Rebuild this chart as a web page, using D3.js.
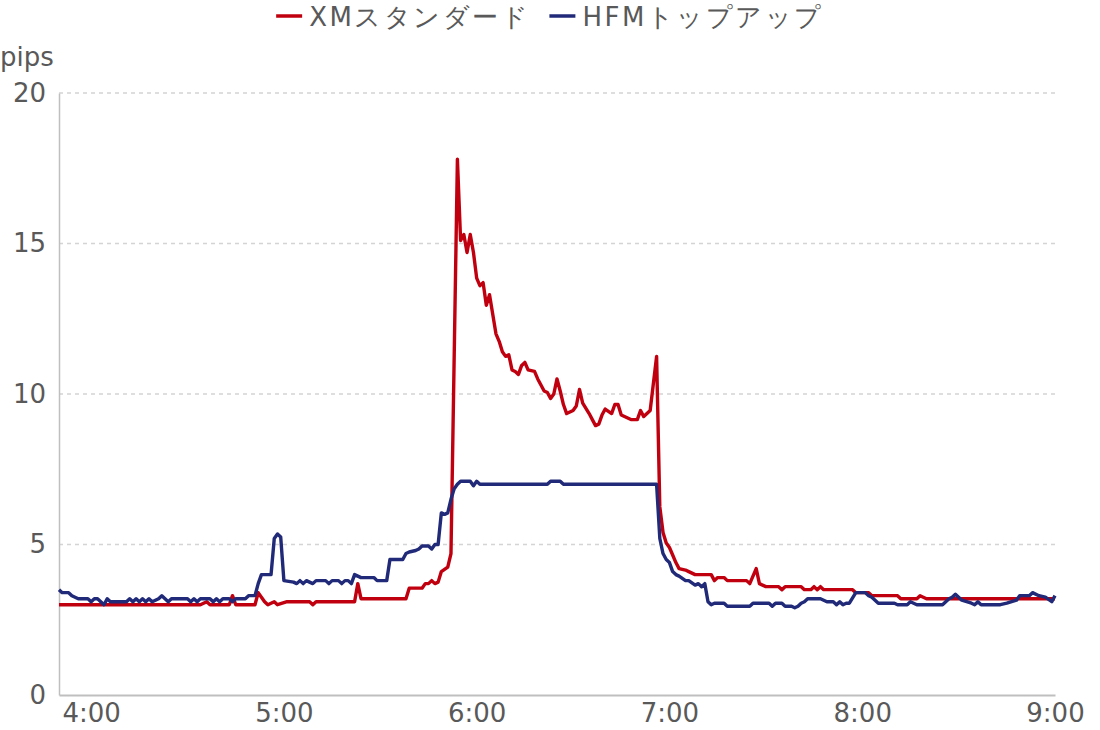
<!DOCTYPE html>
<html>
<head>
<meta charset="utf-8">
<script src="https://cdn.jsdelivr.net/npm/d3@7"></script>
<style>
  body { margin: 0; background: #fff; }
  text { font-family: "DejaVu Sans", Verdana, sans-serif; fill: #595959; }
</style>
</head>
<body>
<svg id="chart" width="1100" height="730"></svg>
<script>
// series names
const seriesNames = ["XMスタンダード", "HFMトップアップ"];

// XM standard, breakpoints (time, pips)
const xmTimes = [
  "3:50","4:34","4:36","4:37","4:43","4:44","4:45","4:51","4:52","4:54","4:55","4:57","4:58",
  "5:01","5:08","5:09","5:10","5:22","5:23","5:24","5:38","5:39","5:43","5:44","5:45","5:46",
  "5:47","5:48","5:49","5:51","5:52","5:54","5:55","5:56","5:57","5:58","5:59","6:00","6:01",
  "6:02","6:03","6:04","6:06","6:07","6:08","6:09","6:10","6:11","6:12","6:13","6:14","6:15",
  "6:16","6:18","6:19","6:21","6:22","6:23","6:24","6:25","6:26","6:27","6:28","6:30","6:31",
  "6:32","6:33","6:35","6:36","6:37","6:38","6:39","6:40","6:42","6:43","6:44","6:45","6:47",
  "6:48","6:50","6:51","6:52","6:54","6:56","6:57","6:58","6:59","7:00","7:01","7:02","7:03",
  "7:05","7:06","7:08","7:13","7:14","7:15","7:17","7:18","7:24","7:25","7:27","7:28","7:30",
  "7:34","7:35","7:36","7:41","7:42","7:44","7:45","7:46","7:47","7:48","7:57","7:58","8:02",
  "8:03","8:11","8:12","8:17","8:18","8:20","9:00"
];
const xmValues = [
  3.0,3.0,3.1,3.0,3.0,3.3,3.0,3.0,3.4,3.1,3.0,3.1,3.0,
  3.1,3.1,3.0,3.1,3.1,3.7,3.2,3.2,3.55,3.55,3.7,3.7,3.8,
  3.7,3.75,4.1,4.25,4.7,17.8,15.1,15.3,14.7,15.3,14.7,13.85,13.6,
  13.7,12.95,13.3,12.0,11.75,11.4,11.25,11.3,10.8,10.75,10.65,10.95,11.05,
  10.8,10.75,10.5,10.1,10.05,9.85,10.0,10.5,10.1,9.65,9.35,9.45,9.6,
  10.15,9.7,9.35,9.15,8.95,9.0,9.3,9.5,9.35,9.65,9.65,9.3,9.2,
  9.15,9.15,9.45,9.25,9.45,11.25,6.25,5.4,5.05,4.9,4.65,4.4,4.2,
  4.15,4.1,4.0,4.0,3.8,3.9,3.9,3.8,3.8,3.7,4.2,3.7,3.6,
  3.6,3.5,3.6,3.6,3.5,3.5,3.6,3.5,3.6,3.5,3.5,3.4,3.4,
  3.3,3.3,3.2,3.2,3.3,3.2,3.2
];

// HFM top-up, breakpoints (time, pips)
const hfmTimes = [
  "3:50","3:51","3:53","3:54","3:56","3:59","4:00","4:01","4:02","4:03","4:04","4:05","4:06",
  "4:11","4:12","4:13","4:14","4:15","4:16","4:17","4:18","4:19","4:21","4:22","4:23","4:24",
  "4:25","4:30","4:31","4:32","4:33","4:34","4:37","4:38","4:39","4:40","4:41","4:43","4:44",
  "4:45","4:48","4:49","4:51","4:52","4:53","4:56","4:57","4:58","4:59","5:00","5:03","5:04",
  "5:05","5:06","5:07","5:08","5:09","5:10","5:13","5:14","5:15","5:17","5:18","5:19","5:20",
  "5:21","5:22","5:24","5:28","5:29","5:32","5:33","5:37","5:38","5:39","5:41","5:42","5:43",
  "5:45","5:46","5:47","5:48","5:49","5:50","5:51","5:52","5:53","5:54","5:55","5:58","5:59",
  "6:00","6:01","6:22","6:23","6:26","6:27","6:56","6:57","6:58","6:59","7:00","7:01","7:02",
  "7:03","7:05","7:06","7:08","7:09","7:10","7:11","7:12","7:13","7:14","7:17","7:18","7:25",
  "7:26","7:31","7:32","7:33","7:35","7:36","7:38","7:39","7:40","7:41","7:42","7:43","7:47",
  "7:49","7:51","7:52","7:53","7:54","7:55","7:56","7:58","8:01","8:02","8:03","8:05","8:10",
  "8:11","8:14","8:15","8:17","8:25","8:27","8:28","8:29","8:31","8:34","8:35","8:36","8:37",
  "8:43","8:45","8:48","8:49","8:52","8:53","8:55","8:57","8:59","9:00"
];
const hfmValues = [
  3.5,3.4,3.4,3.3,3.2,3.2,3.1,3.2,3.2,3.1,3.0,3.2,3.1,
  3.1,3.2,3.1,3.2,3.1,3.2,3.1,3.2,3.1,3.2,3.3,3.2,3.1,
  3.2,3.2,3.1,3.2,3.1,3.2,3.2,3.1,3.2,3.1,3.2,3.2,3.1,
  3.2,3.2,3.3,3.3,3.7,4.0,4.0,5.2,5.35,5.25,3.8,3.75,3.7,
  3.8,3.7,3.8,3.75,3.7,3.8,3.8,3.7,3.8,3.8,3.7,3.8,3.8,
  3.7,4.0,3.9,3.9,3.8,3.8,4.5,4.5,4.7,4.75,4.8,4.85,4.95,
  4.95,4.85,5.0,5.0,6.05,6.0,6.05,6.5,6.85,7.0,7.1,7.1,6.95,
  7.1,7.0,7.0,7.1,7.1,7.0,7.0,5.2,4.7,4.5,4.4,4.1,4.0,
  3.95,3.8,3.8,3.65,3.7,3.6,3.7,3.1,3.0,3.05,3.05,2.95,2.95,
  3.05,3.05,2.95,3.05,3.05,2.95,2.95,2.9,2.95,3.05,3.1,3.2,3.2,
  3.1,3.1,3.0,3.1,3.0,3.05,3.05,3.4,3.4,3.3,3.25,3.05,3.05,
  3.0,3.0,3.1,3.0,3.0,3.2,3.25,3.35,3.15,3.05,3.0,3.1,3.0,
  3.0,3.05,3.15,3.3,3.3,3.4,3.3,3.25,3.1,3.3
];

const xTickLabels = ["4:00", "5:00", "6:00", "7:00", "8:00", "9:00"];
const yTicks      = [0, 5, 10, 15, 20];
const yUnit       = "pips";

const colors = ["#c0000f", "#202a78"];

const toMinutes = s => {
  const [h, m] = s.split(":").map(Number);
  return h * 60 + m;
};

const svg = d3.select("#chart");

const plotLeft = 59, plotRight = 1055, plotTop = 93, plotBottom = 695;

const x = d3.scaleLinear().domain([toMinutes("3:50"), toMinutes("9:00")]).range([plotLeft, plotRight]);
const y = d3.scaleLinear().domain([0, 20]).range([plotBottom, plotTop]);

// grid
svg.append("g")
  .selectAll("line")
  .data(yTicks.filter(d => d > 0))
  .enter().append("line")
  .attr("x1", plotLeft).attr("x2", plotRight)
  .attr("y1", d => y(d)).attr("y2", d => y(d))
  .attr("stroke", "#d4d4d4")
  .attr("stroke-width", 1.3)
  .attr("stroke-dasharray", "4,4");

// y axis
const yAxis = svg.append("g")
  .attr("transform", `translate(${plotLeft},0)`)
  .call(d3.axisLeft(y).tickValues(yTicks).tickSize(0).tickPadding(13));
yAxis.select(".domain").attr("stroke", "#bfbfbf").attr("stroke-width", 1.5);
yAxis.selectAll("text").style("font-size", "26px").attr("fill", "#595959");

// x axis
const xAxis = svg.append("g")
  .attr("transform", `translate(0,${plotBottom})`)
  .call(d3.axisBottom(x)
    .tickValues(xTickLabels.map(toMinutes))
    .tickFormat((d, i) => xTickLabels[i])
    .tickSize(0).tickPadding(9));
xAxis.select(".domain").attr("stroke", "#bfbfbf").attr("stroke-width", 2);
xAxis.selectAll("text").style("font-size", "26px").attr("fill", "#595959");

svg.append("text")
  .attr("x", 0).attr("y", 66)
  .style("font-size", "26px")
  .text(yUnit);

// lines
const line = d3.line()
  .x(d => x(d[0]))
  .y(d => y(d[1]));

const series = [
  d3.zip(xmTimes.map(toMinutes), xmValues),
  d3.zip(hfmTimes.map(toMinutes), hfmValues)
];

svg.append("g")
  .selectAll("path")
  .data(series)
  .enter().append("path")
  .attr("d", line)
  .attr("fill", "none")
  .attr("stroke", (d, i) => colors[i])
  .attr("stroke-width", 3.4)
  .attr("stroke-linejoin", "round");

// legend
const legend = svg.append("g");
let lx = 0;
seriesNames.forEach((name, i) => {
  const g = legend.append("g").attr("transform", `translate(${lx},0)`);
  g.append("line")
    .attr("x1", 0).attr("x2", 26).attr("y1", 16).attr("y2", 16)
    .attr("stroke", colors[i]).attr("stroke-width", 3.5);
  const t = g.append("text")
    .attr("x", 33).attr("y", 26)
    .style("font-size", "26px")
    .style("letter-spacing", "2.5px")
    .text(name);
  lx += 33 + t.node().getComputedTextLength() + 19;
});
const legendW = lx - 19;
legend.attr("transform", `translate(${550 - legendW / 2},0)`);
</script>
</body>
</html>
